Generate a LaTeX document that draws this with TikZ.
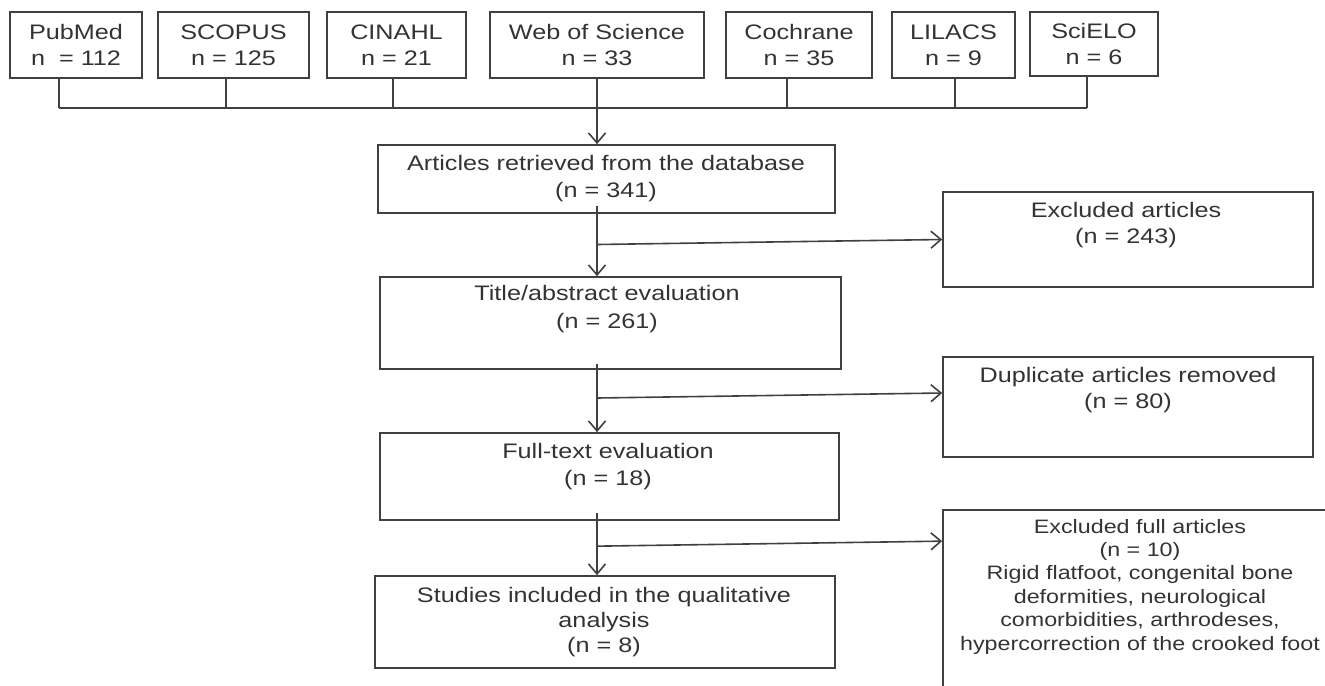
\documentclass[tikz,border=0pt]{standalone}
\usepackage{fontspec}
\setmainfont{Liberation Sans}[FakeStretch=1.2]
\usetikzlibrary{arrows.meta}
\begin{document}
\begin{tikzpicture}[x=0.5pt, y=-0.5pt, every node/.style={font=\fontsize{10.5}{13.5}\selectfont, text=black!80}]
\tikzset{
  box/.style={draw=black!75, line width=0.85pt, inner sep=0pt},
  db/.style={box, minimum height=33pt, align=center, font=\fontsize{10.5}{13}\selectfont},
  txt/.style={align=center, inner sep=0pt},
  link/.style={draw=black!75, line width=0.8pt},
  arr/.style={link, -{Straight Barb[length=5pt, width=8.5pt]}}
}
\useasboundingbox (0,0) rectangle (1325,685);
\clip (0,0) rectangle (1325,685);
% databases
\node[db, minimum width=66pt] (pubmed) at (76,45) {PubMed\\n \ = 112};
\node[db, minimum width=75.5pt] (scopus) at (233.5,45) {SCOPUS\\n = 125};
\node[db, minimum width=69.5pt] (cinahl) at (396.5,45) {CINAHL\\n = 21};
\node[db, minimum width=107pt] (wos) at (597,45) {Web of Science\\n = 33};
\node[db, minimum width=73pt] (cochrane) at (799,45) {Cochrane\\n = 35};
\node[db, minimum width=61.5pt] (lilacs) at (953.5,45) {LILACS\\n = 9};
\node[db, minimum width=64pt, minimum height=32pt] (scielo) at (1094,44) {SciELO\\n = 6};
% main column
\node[box, minimum width=228.5pt, minimum height=34pt] (art) at (606.5,179) {};
\node[txt] (artT) at (606,179) {Articles retrieved from the database\\(n = 341)};
\node[box, minimum width=230.5pt, minimum height=46pt] (title) at (610.5,323) {};
\node[txt, font=\fontsize{10.5}{14}\selectfont] (titleT) at (607,309) {Title/abstract evaluation\\(n = 261)};
\node[box, minimum width=229.5pt, minimum height=43.5pt] (full) at (609.5,476.5) {};
\node[txt] (fullT) at (608,466.5) {Full-text evaluation\\(n = 18)};
\node[box, minimum width=230pt, minimum height=46pt] (studies) at (605,622) {};
\node[txt, font=\fontsize{10.5}{12.5}\selectfont] (studiesT) at (604,622) {Studies included in the qualitative\\analysis\\(n = 8)};
% side boxes
\node[box, minimum width=185pt, minimum height=47.5pt] (ex1) at (1128,239.5) {};
\node[txt, font=\fontsize{10.5}{13}\selectfont] (ex1T) at (1126,225) {Excluded articles\\(n = 243)};
\node[box, minimum width=185pt, minimum height=50pt] (dup) at (1128,407) {};
\node[txt, font=\fontsize{10.5}{13}\selectfont] (dupT) at (1128,390) {Duplicate articles removed\\(n = 80)};
\node[box, minimum width=197pt, minimum height=90pt] (ex2) at (1140,600) {};
\node[txt, font=\fontsize{9.7}{11.7}\selectfont] (ex2T) at (1140,586.5) {Excluded full articles\\(n = 10)\\Rigid flatfoot, congenital bone\\deformities, neurological\\comorbidities, arthrodeses,\\hypercorrection of the crooked foot};
% connectors
\coordinate (busL) at (59,108); \coordinate (busR) at (1087,108);
\coordinate (spine) at (597,0);
\coordinate (dupIn) at ([yshift=7pt]dup.west);
\coordinate (ex2In) at ([yshift=-16pt]ex2.north west);
\draw[link] (busL) -- (busR);
\foreach \n/\x in {pubmed/59, scopus/226, cinahl/393, cochrane/787, lilacs/955, scielo/1087}
  \draw[link] (\n.south -| \x,0) -- (busL -| \x,0);
\draw[arr] (wos.south) -- (art.north -| wos.south);
\draw[arr] ([yshift=4pt]art.south -| spine) -- (title.north -| spine);
\draw[arr] ([yshift=3pt]title.south -| spine) -- (full.north -| spine);
\draw[arr] ([yshift=4pt]full.south -| spine) -- (studies.north -| spine);
\draw[arr] ([yshift=-2.5pt]spine |- ex1.west) -- (ex1.west);
\draw[arr] ([yshift=-2.5pt]spine |- dupIn) -- (dupIn);
\draw[arr] ([yshift=-2.5pt]spine |- ex2In) -- (ex2In);
\end{tikzpicture}
\end{document}
